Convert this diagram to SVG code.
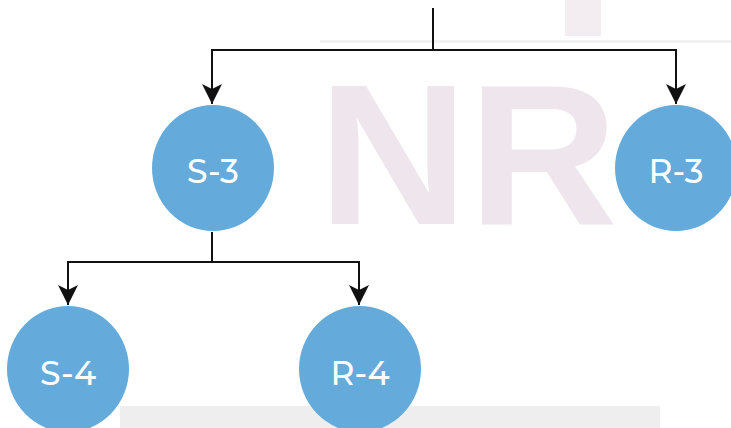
<svg xmlns="http://www.w3.org/2000/svg" width="731" height="428" viewBox="0 0 731 428">
<defs>
<style>
.node{fill:#64abdb}
.lbl{font-family:"Montserrat","Open Sans","Liberation Sans",sans-serif;font-size:33px;font-weight:500;fill:#ffffff;text-anchor:middle;dominant-baseline:central}
.edge{fill:none;stroke:#111111;stroke-width:2}
.wm{font-family:"Liberation Sans",sans-serif;font-weight:bold;fill:#c9a6bd;opacity:0.28}
</style>
<marker id="arrBig" viewBox="0 0 22 22" refX="20" refY="11" markerWidth="22" markerHeight="22" markerUnits="userSpaceOnUse" orient="auto">
<path d="M0,1 L20,11 L0,21 L5,11 Z" fill="#111111"/>
</marker>
</defs>
<rect width="731" height="428" fill="#ffffff"/>
<g id="watermark">
<rect x="320" y="40" width="411" height="3" fill="#e6e6e6" opacity="0.5"/>
<rect x="565" y="0" width="36" height="36" fill="#dcc8d4" opacity="0.35"/>
<text class="wm" x="318" y="224" font-size="200" textLength="300" lengthAdjust="spacingAndGlyphs">NR</text>
<rect x="120" y="406" width="540" height="22" fill="#bdbdbd" opacity="0.25"/>
</g>
<g id="connectors">
<path class="edge" d="M433,8 V50"/>
<path class="edge" d="M433,50 H212 V104" marker-end="url(#arrBig)"/>
<path class="edge" d="M433,50 H676 V104" marker-end="url(#arrBig)"/>
<path class="edge" d="M212,232 V262" stroke="#777777"/>
<path class="edge" d="M212,262 H68 V305" marker-end="url(#arrBig)"/>
<path class="edge" d="M212,262 H359 V305" marker-end="url(#arrBig)"/>
</g>
<g id="S-3">
<ellipse class="node" cx="213" cy="168" rx="61" ry="63"/>
<text class="lbl" x="213" y="171">S-3</text>
</g>
<g id="R-3">
<ellipse class="node" cx="676" cy="168" rx="61" ry="63"/>
<text class="lbl" x="676" y="171">R-3</text>
</g>
<g id="S-4">
<ellipse class="node" cx="68" cy="369" rx="61" ry="63"/>
<text class="lbl" x="68" y="373">S-4</text>
</g>
<g id="R-4">
<ellipse class="node" cx="360" cy="369" rx="61" ry="63"/>
<text class="lbl" x="360" y="373">R-4</text>
</g>
</svg>
